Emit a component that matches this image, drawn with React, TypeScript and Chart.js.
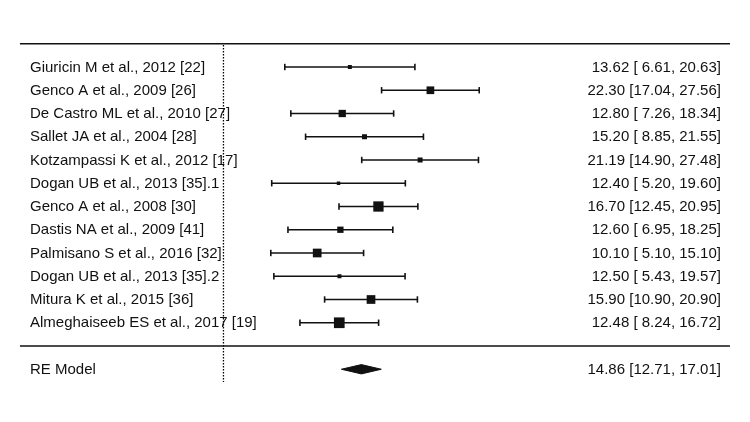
import React, { useEffect, useRef } from 'react';
import { Chart, registerables } from 'chart.js';

Chart.register(...registerables);

const studies = [
  'Giuricin M et al., 2012 [22]',
  'Genco A et al., 2009 [26]',
  'De Castro ML et al., 2010 [27]',
  'Sallet JA et al., 2004 [28]',
  'Kotzampassi K et al., 2012 [17]',
  'Dogan UB et al., 2013 [35].1',
  'Genco A et al., 2008 [30]',
  'Dastis NA et al., 2009 [41]',
  'Palmisano S et al., 2016 [32]',
  'Dogan UB et al., 2013 [35].2',
  'Mitura K et al., 2015 [36]',
  'Almeghaiseeb ES et al., 2017 [19]',
];
const estimates = [13.62, 22.3, 12.8, 15.2, 21.19, 12.4, 16.7, 12.6, 10.1, 12.5, 15.9, 12.48];
const lowerCI = [6.61, 17.04, 7.26, 8.85, 14.9, 5.2, 12.45, 6.95, 5.1, 5.43, 10.9, 8.24];
const upperCI = [20.63, 27.56, 18.34, 21.55, 27.48, 19.6, 20.95, 18.25, 15.1, 19.57, 20.9, 16.72];
// relative study weights (drive the box size)
const weights = [4, 7.7, 7.3, 5, 5, 3.5, 10.3, 6.3, 8.7, 4, 8.7, 10.7];

const summaryLabel = 'RE Model';
const summaryEstimate = [14.86];
const summaryLower = [12.71];
const summaryUpper = [17.01];

// layout constants (data units)
const X_MIN = -24.08;
const X_MAX = 56.74;
const Y_MIN = -1.882;
const Y_MAX = 16.269;
const FRAME_LEFT = -21.93;
const FRAME_RIGHT = 54.58;
const LABEL_LEFT = -20.85;
const LABEL_RIGHT = 53.61;

const fmt = (v: number) => v.toFixed(2).padStart(5, ' ');
const ciText = (e: number, l: number, u: number) => `${e.toFixed(2)} [${fmt(l)}, ${fmt(u)}]`;

const INK = '#111111';
const FONT = '15px "Liberation Sans", Arial, Helvetica, sans-serif';

export default function App() {
  const ref = useRef<HTMLCanvasElement | null>(null);

  useEffect(() => {
    if (!ref.current) return;
    const n = studies.length;
    const frameBottom = n + 1;
    const summaryRow = n + 2;
    const datasets: any[] = [];

    // frame lines
    [0, frameBottom].forEach((yy) => {
      datasets.push({
        data: [{ x: FRAME_LEFT, y: yy }, { x: FRAME_RIGHT, y: yy }],
        borderColor: INK,
        borderWidth: 1.5,
        pointRadius: 0,
      });
    });
    // reference line at 0
    datasets.push({
      data: [{ x: 0, y: 0.05 }, { x: 0, y: summaryRow + 0.55 }],
      borderColor: '#000',
      borderWidth: 1.3,
      borderDash: [1.5, 1.5],
      pointRadius: 0,
    });
    // whiskers
    for (let i = 0; i < n; i++) {
      datasets.push({
        data: [{ x: lowerCI[i], y: i + 1 }, { x: upperCI[i], y: i + 1 }],
        borderColor: INK,
        borderWidth: 1.6,
        pointStyle: 'line',
        pointRotation: 90,
        pointRadius: 3.2,
        pointBorderWidth: 1.6,
        pointBorderColor: INK,
      });
    }
    // boxes
    datasets.push({
      data: estimates.map((e, i) => ({ x: e, y: i + 1 })),
      showLine: false,
      pointStyle: 'rect',
      pointRadius: weights.map((w) => w / Math.SQRT2),
      pointBorderWidth: 0,
      pointBackgroundColor: INK,
      pointBorderColor: INK,
    });
    // summary diamond: upper half filled down to lower half
    datasets.push({
      data: [
        { x: summaryLower[0], y: summaryRow },
        { x: summaryEstimate[0], y: summaryRow - 0.2 },
        { x: summaryUpper[0], y: summaryRow },
      ],
      borderColor: INK,
      borderWidth: 1,
      backgroundColor: INK,
      fill: '+1',
      pointRadius: 0,
      tension: 0,
    });
    datasets.push({
      data: [
        { x: summaryLower[0], y: summaryRow },
        { x: summaryEstimate[0], y: summaryRow + 0.2 },
        { x: summaryUpper[0], y: summaryRow },
      ],
      borderColor: INK,
      borderWidth: 1,
      backgroundColor: INK,
      fill: false,
      pointRadius: 0,
      tension: 0,
    });

    const textPlugin = {
      id: 'forestText',
      afterDatasetsDraw(chart: any) {
        const { ctx, scales } = chart;
        const xs = scales.x;
        const ys = scales.y;
        ctx.save();
        ctx.font = FONT;
        ctx.fillStyle = INK;
        ctx.textBaseline = 'middle';
        const lx = xs.getPixelForValue(LABEL_LEFT);
        const rx = xs.getPixelForValue(LABEL_RIGHT);
        for (let i = 0; i < n; i++) {
          const py = ys.getPixelForValue(i + 1) + 0.5;
          ctx.textAlign = 'left';
          ctx.fillText(studies[i], lx, py);
          ctx.textAlign = 'right';
          ctx.fillText(ciText(estimates[i], lowerCI[i], upperCI[i]), rx, py);
        }
        const sy = ys.getPixelForValue(summaryRow) + 0.5;
        ctx.textAlign = 'left';
        ctx.fillText(summaryLabel, lx, sy);
        ctx.textAlign = 'right';
        ctx.fillText(ciText(summaryEstimate[0], summaryLower[0], summaryUpper[0]), rx, sy);
        ctx.restore();
      },
    };

    const chart = new Chart(ref.current, {
      type: 'line',
      data: { datasets },
      options: {
        responsive: false,
        animation: false,
        events: [],
        layout: { padding: 0, autoPadding: false },
        plugins: { legend: { display: false }, tooltip: { enabled: false } },
        scales: {
          x: { type: 'linear', min: X_MIN, max: X_MAX, display: false },
          y: { type: 'linear', min: Y_MIN, max: Y_MAX, reverse: true, display: false },
        },
      },
      plugins: [textPlugin],
    } as any);

    return () => chart.destroy();
  }, []);

  return (
    <div style={{ position: 'absolute', left: 0, top: 0, width: 750, height: 422, background: '#fff' }}>
      <canvas ref={ref} width={750} height={422} style={{ display: 'block' }} />
    </div>
  );
}
